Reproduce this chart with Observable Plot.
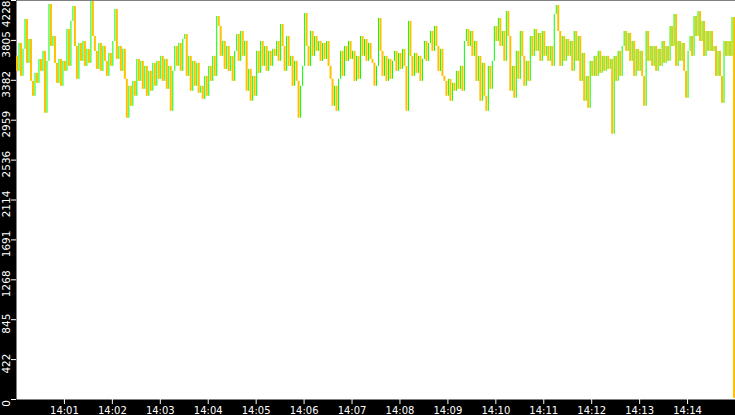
<!DOCTYPE html>
<html>
<head>
<meta charset="utf-8">
<script src="https://cdn.jsdelivr.net/npm/d3@7"></script>
<script src="https://cdn.jsdelivr.net/npm/@observablehq/plot@0.6"></script>
<style>
  html, body { margin: 0; padding: 0; background: #000; }
  #chart svg { display: block; }
</style>
</head>
<body>
<div id="chart"></div>
<script>
// Trade prices, one every 2.5 s from 14:00:00; each bar spans previous price -> price
const prices = [
  3636, 3477, 3773, 3424, 3710, 4027, 3562, 3815, 3371, 3213, 3456, 3350, 3604, 3477, 3689, 3033, 3583, 4185, 3741, 3847,
  3562, 3350, 3604, 3319, 3583, 3477, 3921, 3530, 4006, 4164, 3741, 3393, 3773, 3583, 3794, 3530, 3710, 3562, 4217, 3847,
  3689, 3498, 3773, 3477, 3741, 3583, 3424, 3667, 3530, 3794, 4132, 3604, 3741, 3477, 3710, 3393, 2980, 3319, 3107, 3371,
  3213, 3604, 3371, 3583, 3287, 3530, 3213, 3477, 3266, 3562, 3319, 3583, 3393, 3636, 3371, 3604, 3287, 3530, 3054, 3477,
  3741, 3530, 3773, 3477, 3815, 3868, 3424, 3636, 3266, 3583, 3319, 3562, 3245, 3319, 3181, 3424, 3213, 3530, 3371, 3636,
  3424, 4058, 3953, 3636, 3794, 3498, 3741, 3477, 3636, 3371, 3689, 3868, 3583, 3900, 3636, 3794, 3266, 3498, 3160, 3424,
  3213, 3689, 3456, 3794, 3530, 3741, 3477, 3689, 3530, 3710, 3636, 3794, 3583, 3974, 3741, 3477, 3847, 3530, 3636, 3319,
  3583, 3371, 2980, 3319, 3530, 4090, 3741, 3530, 3900, 3636, 3847, 3689, 3794, 3583, 3773, 3604, 3794, 3530, 3393, 3107,
  3319, 3054, 3393, 3689, 3424, 3741, 3583, 3794, 3604, 3689, 3371, 3636, 3393, 3847, 3636, 3815, 3583, 3773, 3604, 3562,
  3319, 3530, 4037, 3689, 3424, 3636, 3371, 3604, 3393, 3583, 3689, 3477, 3667, 3498, 3710, 3530, 3054, 4006, 3636, 3424,
  3667, 3456, 3636, 3371, 3604, 3794, 3583, 3773, 3900, 3689, 3953, 3741, 3477, 3710, 3424, 3371, 3213, 3393, 3160, 3350,
  3266, 3477, 3287, 3530, 3266, 3794, 3921, 3741, 3900, 3636, 3794, 3371, 3636, 3160, 3562, 3213, 3054, 3530, 3287, 3583,
  3953, 3794, 4037, 3741, 3900, 3583, 4111, 3847, 3266, 3530, 3192, 3689, 3393, 3900, 3636, 3319, 3583, 3371, 3847, 3636,
  3921, 3689, 3879, 3583, 3900, 3636, 3741, 3583, 3741, 3530, 4080, 4175, 3900, 3530, 3847, 3583, 3815, 3636, 3794, 3477,
  3900, 3583, 3847, 3371, 3667, 3160, 3424, 3086, 3583, 3424, 3636, 3424, 3689, 3456, 3636, 3477, 3636, 3498, 3604, 2811,
  3636, 3371, 3689, 3424, 3741, 3900, 3689, 3879, 3583, 3794, 3424, 3710, 3477, 3689, 3424, 3107, 3900, 3583, 3741, 3530,
  3741, 3477, 3710, 3530, 3794, 3562, 3741, 3583, 3953, 3741, 4080, 3530, 3794, 3583, 3773, 3477, 3192, 3689, 3847, 3636,
  4058, 3847, 4111, 3794, 4006, 3636, 3900, 3689, 3900, 3689, 3741, 3424, 3689, 3424, 3139, 3794, 3636, 3794, 3636, 4048,
  12
];
const startTime = new Date(2024, 0, 1, 14, 0, 0);
const endTime = new Date(2024, 0, 1, 14, 15, 0);
const intervalSeconds = 2.5;

const yTicks = [0, 422.8, 845.6, 1268.4, 1691.2, 2114, 2536.8, 2959.6, 3382.4, 3805.2, 4228];
const xTickLabels = ["14:01","14:02","14:03","14:04","14:05","14:06","14:07","14:08","14:09","14:10","14:11","14:12","14:13","14:14"];

const upColor = "#00ff00";
const downColor = "#ffc000";

const candles = d3.range(1, prices.length).map(k => ({
  t0: new Date(+startTime + (k - 1) * intervalSeconds * 1000),
  t1: new Date(+startTime + k * intervalSeconds * 1000),
  open: prices[k - 1],
  close: prices[k],
  up: prices[k] >= prices[k - 1]
}));

const xTicks = xTickLabels.map(s => {
  const [h, m] = s.split(":").map(Number);
  return new Date(2024, 0, 1, h, m, 0);
});

const chart = Plot.plot({
  width: 735,
  height: 415,
  marginLeft: 16,
  marginRight: 0,
  marginTop: 0,
  marginBottom: 16,
  style: { background: "#000", color: "#fff", fontFamily: "DejaVu Sans, sans-serif", fontSize: "10px" },
  x: { type: "time", domain: [startTime, endTime] },
  y: { domain: [0, 4228] },
  marks: [
    Plot.frame({ fill: "#fff", stroke: null }),
    Plot.rect(candles.filter(d => d.up), {
      x1: "t0", x2: "t1", y1: "open", y2: "close", fill: upColor,
      insetLeft: 0.5, insetRight: 0.5
    }),
    Plot.rect(candles.filter(d => !d.up), {
      x1: "t0", x2: "t1", y1: "open", y2: "close", fill: downColor,
      insetLeft: 0, insetRight: 0
    }),
    Plot.axisX({
      ticks: xTicks, tickFormat: d3.timeFormat("%H:%M"), tickSize: 5, tickPadding: 2,
      stroke: "#fff", fill: "#fff", fontSize: 10, label: null
    }),
    Plot.axisY({
      ticks: yTicks, tickFormat: () => "", tickSize: 5,
      stroke: "#fff", label: null
    }),
    Plot.text(yTicks.slice(0, -1), {
      y: d => d, text: d => String(Math.floor(d)),
      frameAnchor: "left", dx: -10, dy: 4, rotate: -90,
      textAnchor: "middle", fill: "#fff", fontSize: 10.5
    }),
    Plot.text(yTicks.slice(-1), {
      y: d => d, text: d => String(Math.floor(d)),
      frameAnchor: "left", dx: -10, dy: 0, rotate: -90,
      textAnchor: "end", fill: "#fff", fontSize: 10.5
    })
  ]
});

document.getElementById("chart").appendChild(chart);
</script>
</body>
</html>
